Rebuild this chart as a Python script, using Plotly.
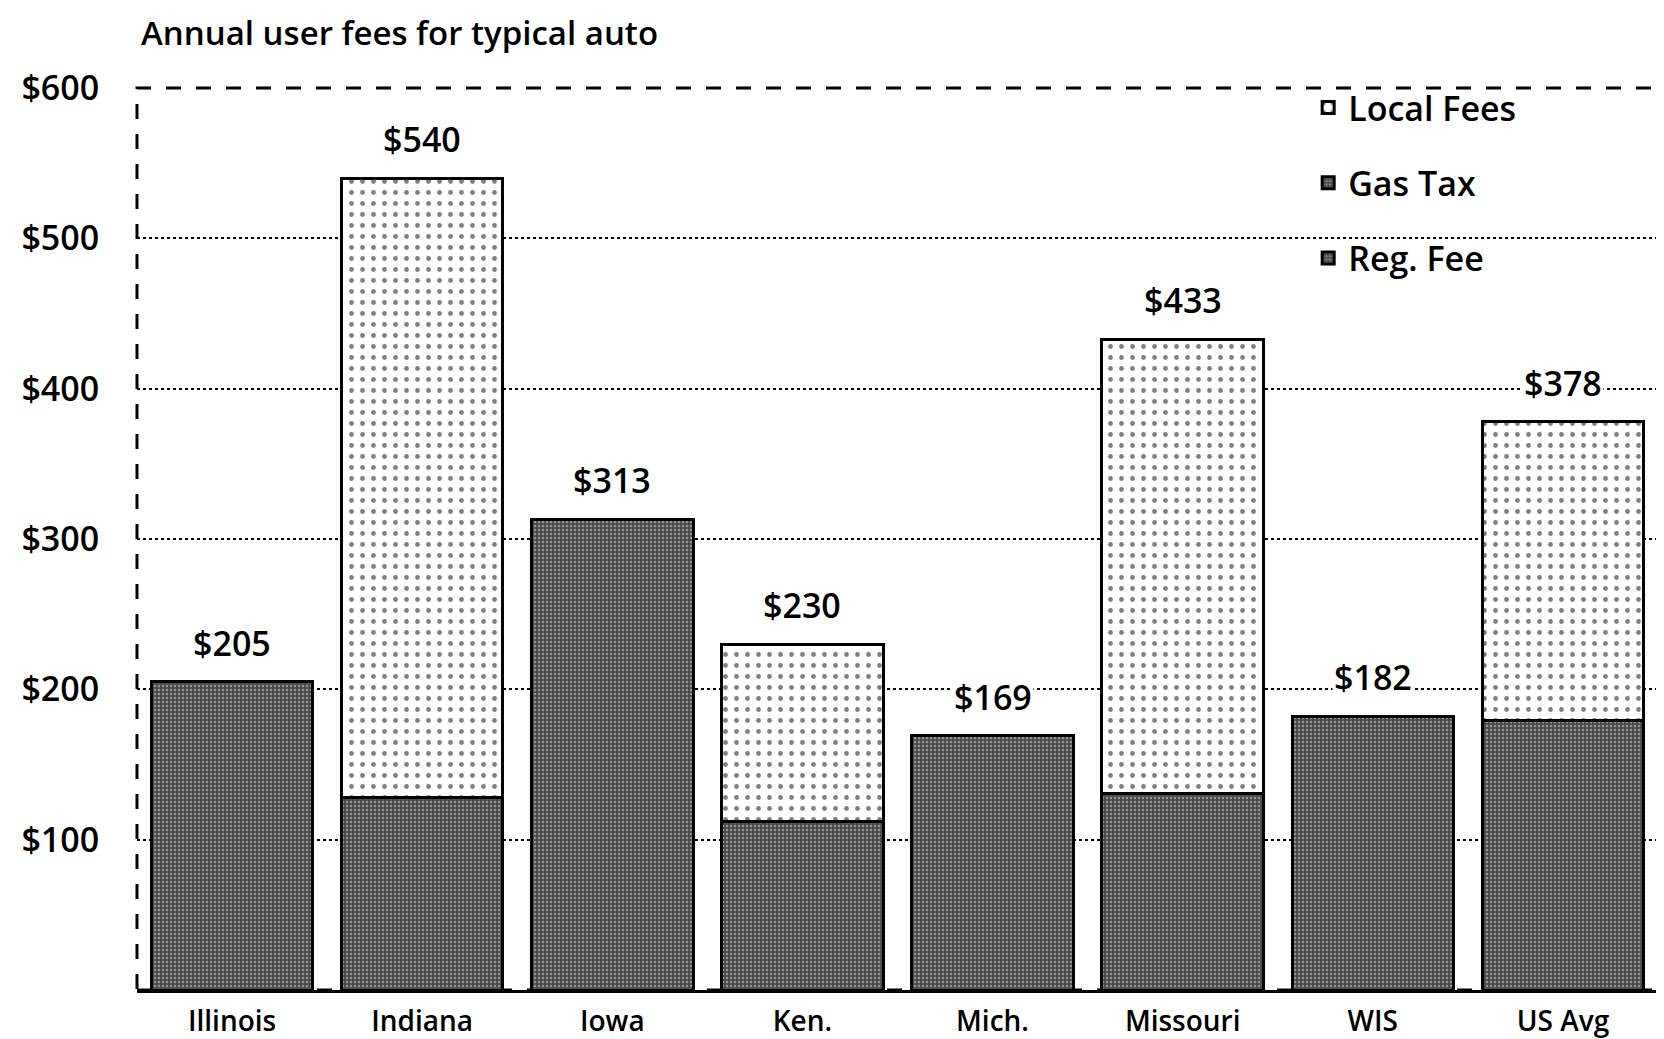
import plotly.graph_objects as go

categories = ["Illinois", "Indiana", "Iowa", "Ken.", "Mich.", "Missouri", "WIS", "US Avg"]
totals = [205, 540, 313, 230, 169, 433, 182, 378]
total_labels = ["$205", "$540", "$313", "$230", "$169", "$433", "$182", "$378"]
# dark segment (gas tax + registration fee share the same shading in the source)
gas_and_reg = [205, 128, 313, 112, 169, 131, 182, 179]
local_fees = [0, 412, 0, 118, 0, 302, 0, 199]
reg_fee_only = [None] * 8  # not separable in the source; legend entry only

y_ticks = [100, 200, 300, 400, 500, 600]
y_tick_labels = ["$100", "$200", "$300", "$400", "$500", "$600"]

FONT = "Open Sans"
dark_marker = dict(
    color="#555555",
    line=dict(color="black", width=3),
    pattern=dict(shape=".", fgcolor="#dddddd", bgcolor="#4a4a4a", size=4, solidity=0.3),
)
light_marker = dict(
    color="white",
    line=dict(color="black", width=3),
    pattern=dict(shape=".", fgcolor="black", bgcolor="white", size=11, solidity=0.15),
)

fig = go.Figure()
fig.add_trace(go.Bar(x=categories, y=reg_fee_only, name="Reg. Fee", marker=dark_marker,
                     legendgroup="r", legendrank=3))
fig.add_trace(go.Bar(x=categories, y=gas_and_reg, name="Gas Tax", marker=dark_marker,
                     legendgroup="g", legendrank=2))
fig.add_trace(go.Bar(x=categories, y=local_fees, name="Local Fees", marker=light_marker,
                     legendgroup="l", legendrank=1))

for cat, tot, lab in zip(categories, totals, total_labels):
    fig.add_annotation(x=cat, y=tot, text=lab, showarrow=False, yanchor="bottom",
                       yshift=14, bgcolor="white",
                       font=dict(family=FONT, size=34, color="black", weight=600))

fig.update_layout(
    width=1664, height=1039,
    barmode="stack", bargap=0.15,
    paper_bgcolor="white", plot_bgcolor="white",
    margin=dict(l=129, r=14, t=80, b=57),
    title=dict(text="Annual user fees for typical auto", x=133 / 1664, xanchor="left",
               y=1 - 25 / 1039, yanchor="middle",
               font=dict(family=FONT, size=33, color="black", weight=600)),
    legend=dict(x=0.77, y=1.01, xanchor="left", yanchor="top",
                traceorder="grouped", tracegroupgap=28,
                font=dict(family=FONT, size=34, color="black", weight=600),
                bgcolor="rgba(0,0,0,0)"),
    font=dict(family=FONT, color="black"),
    showlegend=True,
)
fig.update_yaxes(range=[0, 600], tickvals=y_ticks, ticktext=y_tick_labels,
                 showgrid=True, gridcolor="black", griddash="dot", gridwidth=2,
                 ticks="outside", ticklen=30, tickcolor="rgba(0,0,0,0)",
                 automargin=False,
                 tickfont=dict(family=FONT, size=34, color="black", weight=600),
                 zeroline=False, showline=False)
fig.update_xaxes(showline=True, linecolor="black", linewidth=3,
                 ticks="outside", ticklen=4, tickcolor="rgba(0,0,0,0)",
                 automargin=False,
                 tickfont=dict(family=FONT, size=28, color="black", weight=600))
fig.add_shape(type="rect", xref="paper", yref="paper", x0=0, x1=1, y0=0, y1=1,
              line=dict(color="black", width=3, dash="longdash"), layer="below")

fig.write_html("out.html")
